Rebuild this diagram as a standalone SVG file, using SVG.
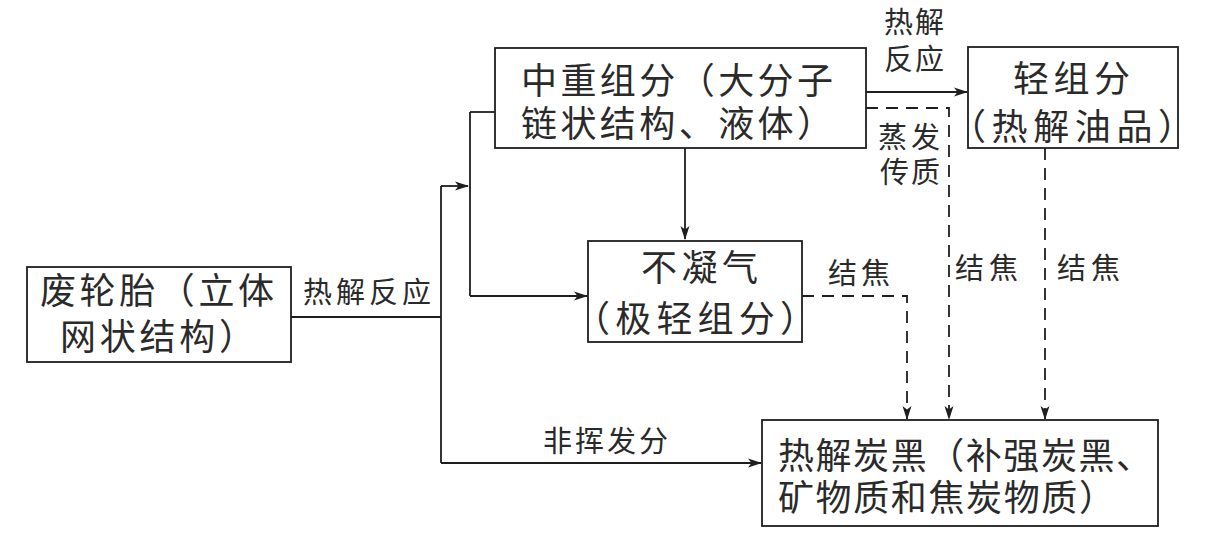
<svg xmlns="http://www.w3.org/2000/svg" width="1208" height="546" viewBox="0 0 1208 546">
<style>
.box{fill:#fff;stroke:#1e1e1e;stroke-width:1.8}
.t{font-family:"Liberation Sans","Noto Sans CJK SC",sans-serif;font-size:36px;fill:#2a2a2a}
.s{font-family:"Liberation Sans","Noto Sans CJK SC",sans-serif;font-size:29px;fill:#2a2a2a}
.ln{fill:none;stroke:#1e1e1e;stroke-width:1.8}
.dl{fill:none;stroke:#1e1e1e;stroke-width:1.8;stroke-dasharray:12 8}
</style>
<defs>
<marker id="ah" viewBox="0 0 14 10" refX="13" refY="5" markerWidth="14" markerHeight="10" markerUnits="userSpaceOnUse" orient="auto">
<path d="M0,0.5 L14,5 L0,9.5 L3.5,5 Z" fill="#1e1e1e"/>
</marker>
</defs>
<rect width="1208" height="546" fill="#fff"/>
<g id="connectors">
<path class="ln" d="M291,317 H441"/>
<path class="ln" d="M441,186 V463"/>
<path class="ln" d="M441,186 H468" marker-end="url(#ah)"/>
<path class="ln" d="M470,112 V296"/>
<path class="ln" d="M470,112 H495"/>
<path class="ln" d="M470,296 H587" marker-end="url(#ah)"/>
<path class="ln" d="M441,463 H761" marker-end="url(#ah)"/>
<path class="ln" d="M685,148 V239" marker-end="url(#ah)"/>
<path class="ln" d="M866,92 H967" marker-end="url(#ah)"/>
<path class="dl" d="M866,108 H949 V419" marker-end="url(#ah)"/>
<path class="dl" d="M1045,148 V419" marker-end="url(#ah)"/>
<path class="dl" d="M802,296 H907 V419" marker-end="url(#ah)"/>
<text class="s" x="303" y="303" textLength="128" lengthAdjust="spacing">热解反应</text>
<text class="s"><tspan x="884" y="33" textLength="60" lengthAdjust="spacing">热解</tspan><tspan x="884" y="70" textLength="60" lengthAdjust="spacing">反应</tspan></text>
<text class="s"><tspan x="878" y="148" textLength="62" lengthAdjust="spacing">蒸发</tspan><tspan x="880" y="183" textLength="60" lengthAdjust="spacing">传质</tspan></text>
<text class="s" x="828" y="284" textLength="62" lengthAdjust="spacing">结焦</text>
<text class="s" x="955" y="279" textLength="63" lengthAdjust="spacing">结焦</text>
<text class="s" x="1057" y="279" textLength="63" lengthAdjust="spacing">结焦</text>
<text class="s" x="543" y="452" textLength="125" lengthAdjust="spacing">非挥发分</text>
</g>
<g id="tire">
<rect class="box" x="27" y="267" width="264" height="95"/>
<text class="t"><tspan x="40" y="304" textLength="234" lengthAdjust="spacing">废轮胎（立体</tspan><tspan x="60" y="350" textLength="195" lengthAdjust="spacing">网状结构）</tspan></text>
</g>
<g id="heavy">
<rect class="box" x="495" y="48" width="371" height="100"/>
<text class="t"><tspan x="521" y="94" textLength="312" lengthAdjust="spacing">中重组分（大分子</tspan><tspan x="521" y="137" textLength="312" lengthAdjust="spacing">链状结构、液体）</tspan></text>
</g>
<g id="light">
<rect class="box" x="968" y="47" width="210" height="101"/>
<text class="t"><tspan x="1013" y="92" textLength="117" lengthAdjust="spacing">轻组分</tspan><tspan x="950" y="140" textLength="244" lengthAdjust="spacing">（热解油品）</tspan></text>
</g>
<g id="gas">
<rect class="box" x="588" y="241" width="214" height="101"/>
<text class="t"><tspan x="641" y="281" textLength="117" lengthAdjust="spacing">不凝气</tspan><tspan x="574" y="332" textLength="242" lengthAdjust="spacing">（极轻组分）</tspan></text>
</g>
<g id="carbon">
<rect class="box" x="762" y="420" width="396" height="106"/>
<text class="t"><tspan x="778" y="469" textLength="374" lengthAdjust="spacing">热解炭黑（补强炭黑、</tspan><tspan x="778" y="511" textLength="337" lengthAdjust="spacing">矿物质和焦炭物质）</tspan></text>
</g>
</svg>
